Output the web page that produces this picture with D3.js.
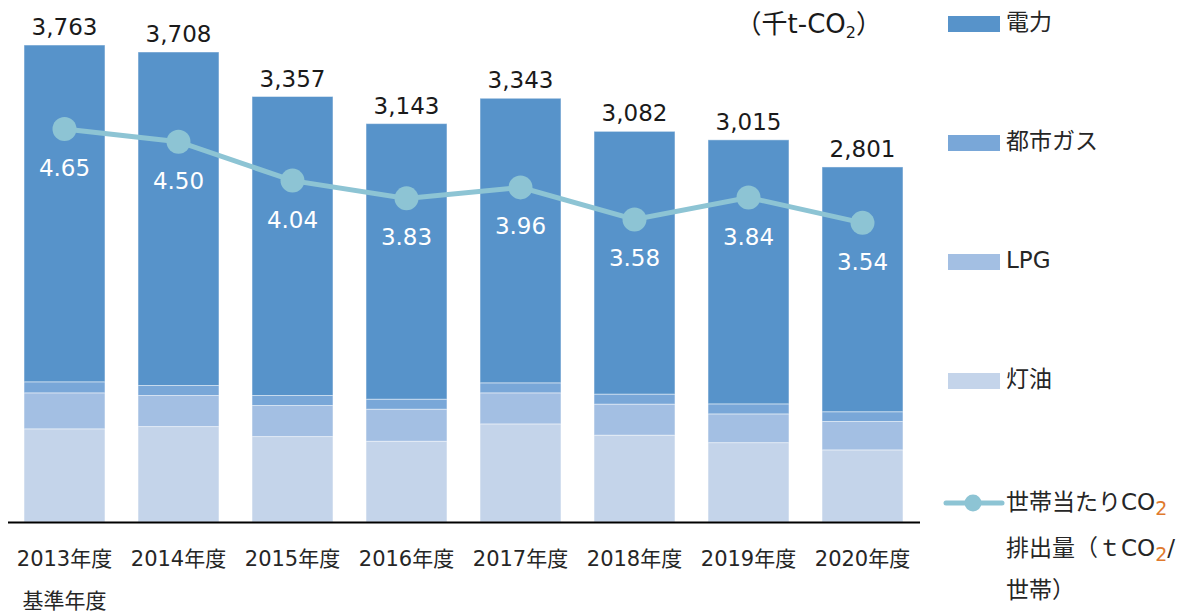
<!DOCTYPE html>
<html>
<head>
<meta charset="utf-8">
<script src="https://cdn.jsdelivr.net/npm/d3@7"></script>
<style>
  body { margin: 0; background: #fff; }
  text { font-family: "DejaVu Sans", "Noto Sans CJK JP", sans-serif; }
</style>
</head>
<body>
<div id="chart"></div>
<script>
// Data
const years = ["2013年度", "2014年度", "2015年度", "2016年度", "2017年度", "2018年度", "2019年度", "2020年度"];
const kerosene = [735, 753, 674, 637, 774, 685, 626, 569];
const lpg = [284, 245, 245, 253, 245, 245, 227, 224];
const cityGas = [87, 79, 79, 79, 79, 79, 79, 77];
const electricity = [2657, 2631, 2359, 2174, 2245, 2073, 2083, 1931];
const totals = [3763, 3708, 3357, 3143, 3343, 3082, 3015, 2801];
const perHousehold = [4.65, 4.50, 4.04, 3.83, 3.96, 3.58, 3.84, 3.54];

const seriesKeys = ["kerosene", "lpg", "cityGas", "electricity"];
const seriesNames = {electricity: "電力", cityGas: "都市ガス", lpg: "LPG", kerosene: "灯油"};
const colors = {electricity: "#5793ca", cityGas: "#79a7d8", lpg: "#a3bfe3", kerosene: "#c4d4ea"};
const lineColor = "#8dc4d4";

const width = 1194, height = 614;
const baseY = 522, topY = 15;

const table = years.map((yr, i) => ({
  year: yr,
  kerosene: kerosene[i],
  lpg: lpg[i],
  cityGas: cityGas[i],
  electricity: electricity[i]
}));

const svg = d3.select("#chart")
  .append("svg")
  .attr("width", width)
  .attr("height", height);

const x = d3.scaleBand()
  .domain(years)
  .range([7.5, 919.5])
  .paddingInner(0.29)
  .paddingOuter(0.145);

const y = d3.scaleLinear().domain([0, 4000]).range([baseY, topY]);
const y2 = d3.scaleLinear().domain([0, 6]).range([baseY, topY]);

// Stacked bars
const stacked = d3.stack().keys(seriesKeys)(table);

svg.append("g")
  .selectAll("g")
  .data(stacked)
  .enter()
  .append("g")
  .attr("fill", d => colors[d.key])
  .selectAll("rect")
  .data(d => d)
  .enter()
  .append("rect")
  .attr("x", d => x(d.data.year))
  .attr("y", d => y(d[1]))
  .attr("width", x.bandwidth())
  .attr("height", d => y(d[0]) - y(d[1]))
  .attr("stroke", "#ffffff")
  .attr("stroke-opacity", 0.45)
  .attr("stroke-width", 1);

// Total labels
svg.append("g")
  .selectAll("text")
  .data(totals)
  .enter()
  .append("text")
  .attr("x", (d, i) => x(years[i]) + x.bandwidth() / 2)
  .attr("y", d => y(d) - 10)
  .attr("text-anchor", "middle")
  .attr("font-size", 23)
  .attr("fill", "#1a1a1a")
  .text(d => d3.format(",")(d));

// X axis
const xAxis = svg.append("g")
  .attr("transform", "translate(0," + baseY + ")")
  .call(d3.axisBottom(x).tickSize(0).tickPadding(29));

xAxis.select(".domain")
  .attr("stroke", "#000")
  .attr("stroke-width", 2);

xAxis.selectAll(".tick text")
  .attr("font-size", 21)
  .attr("fill", "#262626")
  .attr("font-family", "'DejaVu Sans', 'Noto Sans CJK JP', sans-serif");

xAxis.selectAll(".tick")
  .filter((d, i) => i === 0)
  .append("text")
  .attr("y", 86)
  .attr("font-size", 21)
  .attr("fill", "#262626")
  .attr("font-family", "'DejaVu Sans', 'Noto Sans CJK JP', sans-serif")
  .text("基準年度");

// Line per household
const line = d3.line()
  .x((d, i) => x(years[i]) + x.bandwidth() / 2)
  .y(d => y2(d));

svg.append("path")
  .datum(perHousehold)
  .attr("d", line)
  .attr("fill", "none")
  .attr("stroke", lineColor)
  .attr("stroke-width", 5);

svg.append("g")
  .selectAll("circle")
  .data(perHousehold)
  .enter()
  .append("circle")
  .attr("cx", (d, i) => x(years[i]) + x.bandwidth() / 2)
  .attr("cy", d => y2(d))
  .attr("r", 12)
  .attr("fill", lineColor);

svg.append("g")
  .selectAll("text")
  .data(perHousehold)
  .enter()
  .append("text")
  .attr("x", (d, i) => x(years[i]) + x.bandwidth() / 2)
  .attr("y", d => y2(d) + 47)
  .attr("text-anchor", "middle")
  .attr("font-size", 23)
  .attr("fill", "#ffffff")
  .text(d => d.toFixed(2));

// Unit label
const unit = svg.append("text")
  .attr("x", 882)
  .attr("y", 33)
  .attr("text-anchor", "end")
  .attr("font-size", 26)
  .attr("fill", "#1a1a1a");
unit.append("tspan").text("（千t-CO");
unit.append("tspan").attr("font-size", 16).attr("dy", 5).text("2");
unit.append("tspan").attr("dy", -5).text("）");

// Legend
const legendKeys = ["electricity", "cityGas", "lpg", "kerosene"];
const legend = svg.append("g")
  .selectAll(".legend")
  .data(legendKeys)
  .enter()
  .append("g")
  .attr("class", "legend")
  .attr("transform", (d, i) => "translate(948," + (16 + i * 119) + ")");

legend.append("rect")
  .attr("width", 52)
  .attr("height", 16)
  .attr("fill", d => colors[d]);

legend.append("text")
  .attr("x", 58)
  .attr("y", 14)
  .attr("font-size", 23)
  .attr("fill", "#262626")
  .text(d => seriesNames[d]);

const lineLegend = svg.append("g").attr("transform", "translate(946,503)");
lineLegend.append("line")
  .attr("x1", 0).attr("x2", 56)
  .attr("stroke", lineColor)
  .attr("stroke-width", 5)
  .attr("stroke-linecap", "round");
lineLegend.append("circle")
  .attr("cx", 27)
  .attr("r", 8.5)
  .attr("fill", lineColor);

const l1 = lineLegend.append("text")
  .attr("x", 60).attr("y", 7)
  .attr("font-size", 23).attr("fill", "#262626");
l1.append("tspan").text("世帯当たりCO");
l1.append("tspan").attr("dy", 5).attr("font-size", 19).attr("fill", "#e07a2e").text("2");

const l2 = lineLegend.append("text")
  .attr("x", 60).attr("y", 53)
  .attr("font-size", 23).attr("fill", "#262626");
l2.append("tspan").text("排出量（ｔCO");
l2.append("tspan").attr("dy", 5).attr("font-size", 19).attr("fill", "#e07a2e").text("2");
l2.append("tspan").attr("dy", -5).text("/");

lineLegend.append("text")
  .attr("x", 60).attr("y", 95)
  .attr("font-size", 23).attr("fill", "#262626")
  .text("世帯）");
</script>
</body>
</html>
